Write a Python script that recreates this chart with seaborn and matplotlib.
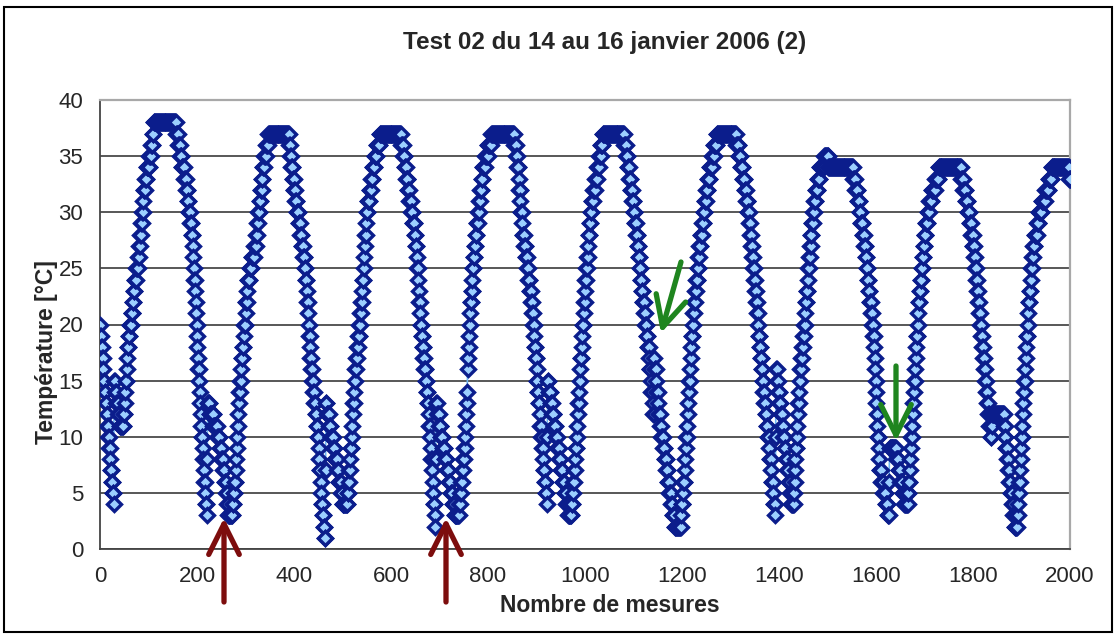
import matplotlib
matplotlib.use("Agg")
import matplotlib.pyplot as plt
import seaborn as sns
import pandas as pd
from matplotlib.patches import Rectangle

# ---- data: key points of the temperature record
# (measurement number, temperature in degC; readings are whole degrees)
wp_mesure = [0, 28, 29, 42, 48, 52, 59, 66, 73, 80, 87, 93, 104, 112, 155,
             166, 176, 190, 200, 207, 214, 220, 222, 245, 258, 265, 272,
             279, 286, 296, 306, 320, 327, 337, 348, 388,
             395, 423, 436, 450, 457, 464, 466, 502, 510,
             519, 526, 540, 550, 567, 580, 619,
             629, 650, 663, 677, 691, 693, 732, 740,
             753, 763, 773, 790, 810, 852,
             859, 873, 890, 900, 921, 923, 966, 972,
             983, 990, 1000, 1014, 1031, 1038, 1079,
             1086, 1107, 1120, 1130, 1142, 1143, 1155, 1186, 1196,
             1206, 1213, 1223, 1237, 1254, 1268, 1275, 1309,
             1323, 1337, 1350, 1364, 1378, 1392, 1394, 1426, 1430,
             1433, 1443, 1454, 1464, 1474, 1485, 1500, 1503, 1550,
             1564, 1577, 1588, 1595, 1601, 1608, 1626, 1628, 1640, 1660, 1665,
             1670, 1677, 1687, 1698, 1711, 1725, 1732, 1773,
             1787, 1801, 1814, 1825, 1832, 1838, 1840, 1862, 1869, 1876, 1887, 1890,
             1897, 1904, 1914, 1924, 1938, 1959, 1965, 1995, 2000]
wp_temp = [20, 4, 15, 11, 11, 14, 19, 21, 24, 26, 30, 33, 35, 38, 38,
           35, 33, 28, 19, 13, 7, 3, 13, 10, 6, 3, 3,
           6, 13, 19, 24, 27, 30, 34, 37, 37,
           34, 25, 16, 10, 4, 1, 13, 4, 4,
           10, 16, 22, 30, 35, 37, 37,
           34, 28, 19, 13, 2, 13, 3, 3,
           10, 21, 27, 34, 37, 37,
           35, 28, 22, 16, 4, 15, 3, 3,
           10, 16, 23, 31, 35, 37, 37,
           35, 28, 22, 18, 12, 17, 11, 2, 2,
           7, 13, 21, 27, 33, 36, 37, 37,
           34, 30, 24, 16, 10, 3, 16, 4, 4,
           7, 15, 21, 27, 31, 34, 35, 34, 34,
           31, 27, 22, 19, 13, 7, 3, 9, 9, 4, 4,
           7, 13, 21, 27, 31, 33, 34, 34,
           31, 27, 21, 15, 12, 10, 12, 12, 9, 6, 2, 2,
           7, 13, 21, 27, 30, 33, 34, 34, 33]

x_ticks = [0, 200, 400, 600, 800, 1000, 1200, 1400, 1600, 1800, 2000]
y_ticks = [0, 5, 10, 15, 20, 25, 30, 35, 40]
title = "Test 02 du 14 au 16 janvier 2006 (2)"
xlabel = "Nombre de mesures"
ylabel = "Température [°C]"


def expand(xs, ts):
    idx, vals = [], []
    for k in range(len(xs) - 1):
        x0, x1, t0, t1 = xs[k], xs[k + 1], ts[k], ts[k + 1]
        for i in range(x0, x1):
            idx.append(i)
            vals.append(int(round(t0 + (t1 - t0) * (i - x0) / (x1 - x0))))
    idx.append(xs[-1])
    vals.append(ts[-1])
    return idx, vals


mes, temp = expand(wp_mesure, wp_temp)
df = pd.DataFrame({"mesure": mes, "temp": temp})

sns.set_style("white")
plt.rcParams["font.family"] = ["Liberation Sans", "DejaVu Sans"]

W, H = 1118, 635
fig = plt.figure(figsize=(W / 100, H / 100), dpi=100)
ax = fig.add_axes([100 / W, 1 - 549 / H, 970 / W, 449 / H])

sns.lineplot(data=df, x="mesure", y="temp", ax=ax, estimator=None, sort=False,
             color="#6fb6f2", linewidth=1.2, marker="D", markersize=7.0,
             markeredgecolor="#0b1d8c", markerfacecolor="#9ccfff",
             markeredgewidth=2.4, zorder=3)

ax.set_xlim(0, 2000)
ax.set_ylim(0, 40)
ax.set_xticks(x_ticks)
ax.set_yticks(y_ticks)
ax.set_xticklabels([str(v) for v in x_ticks])
ax.set_yticklabels([str(v) for v in y_ticks])
ax.set_xlabel("")
ax.set_ylabel("")
ax.yaxis.grid(True, color="#2a2a2a", linewidth=1.1)
ax.xaxis.grid(False)
ax.set_axisbelow(True)
for s in ["left", "bottom"]:
    ax.spines[s].set_color("#444444")
    ax.spines[s].set_linewidth(1.3)
for s in ["top", "right"]:
    ax.spines[s].set_color("#a8a8a8")
    ax.spines[s].set_linewidth(1.6)
ax.tick_params(axis="both", direction="out", length=6, width=1.1,
               color="#444444", labelsize=16, pad=6)
ax.tick_params(axis="y", pad=6)

fig.text(605 / W, 1 - 43 / H, title, ha="center", va="center",
         fontsize=17.5, fontweight="bold")
fig.text(610 / W, 1 - 606 / H, xlabel, ha="center", va="center",
         fontsize=16.5, fontweight="bold")
fig.text(47 / W, 1 - 352 / H, ylabel, ha="center", va="center",
         fontsize=16.5, fontweight="bold", rotation=90)

# annotation arrows (figure fraction)
arrows = [
    ((224, 518), (224, 602), "#7d0d0d"),
    ((446, 518), (446, 602), "#7d0d0d"),
    ((661, 333), (681, 262), "#1f851f"),
    ((896, 441), (896, 366), "#1f851f"),
]
for (tx, ty), (sx, sy), col in arrows:
    ax.annotate("", xy=(tx / W, 1 - ty / H), xytext=(sx / W, 1 - sy / H),
                xycoords="figure fraction", textcoords="figure fraction",
                arrowprops=dict(arrowstyle="->,head_length=2.2,head_width=1.1",
                                color=col, lw=3.8, shrinkA=0, shrinkB=0),
                annotation_clip=False, zorder=10)

fig.add_artist(Rectangle((4 / W, 3 / H), 1108 / W, 625 / H,
                         transform=fig.transFigure, fill=False,
                         edgecolor="black", linewidth=1.5))

fig.savefig("out.png", dpi=100)
